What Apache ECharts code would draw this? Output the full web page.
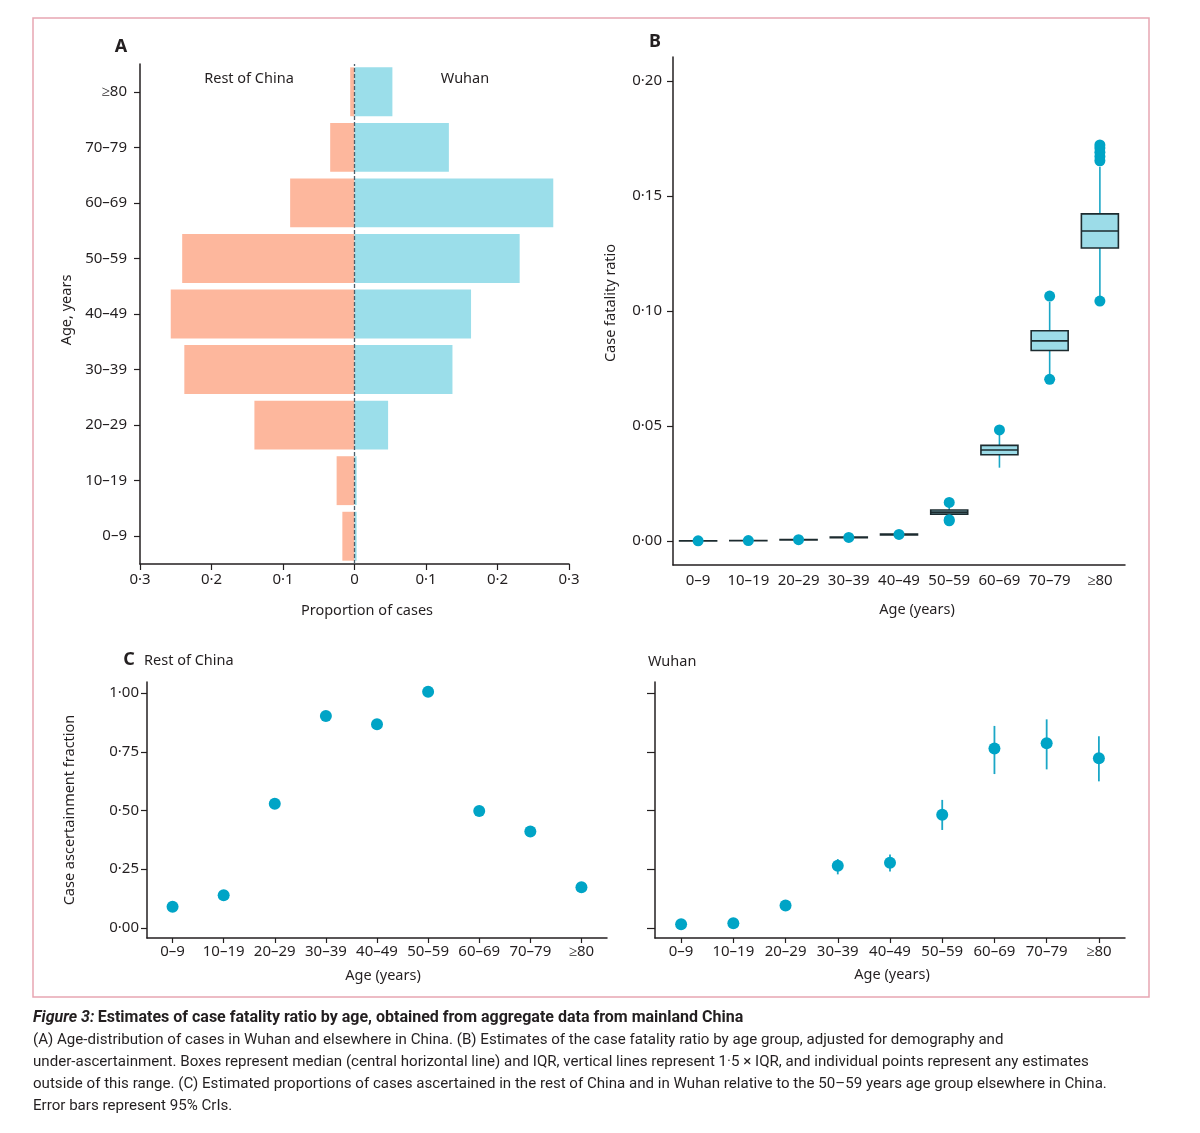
<!DOCTYPE html>
<html><head><meta charset="utf-8">
<script src="https://cdn.jsdelivr.net/npm/echarts@6/dist/echarts.min.js"></script>
<style>html,body{margin:0;padding:0;background:#fff}#c{width:1200px;height:1133px}</style>
</head><body><div id="c"></div>
<script>
// ---- data ----
const ageGroups = ['0–9','10–19','20–29','30–39','40–49','50–59','60–69','70–79','≥80'];
// Panel A: proportion of cases
const restOfChinaProp = [0.017, 0.025, 0.140, 0.238, 0.257, 0.241, 0.090, 0.034, 0.006];
const wuhanProp       = [0.003, 0.003, 0.047, 0.137, 0.163, 0.231, 0.278, 0.132, 0.053];
const propTicks = [-0.3, -0.2, -0.1, 0, 0.1, 0.2, 0.3];
// Panel B: case fatality ratio boxplots
const cfrWhiskerLo = [0.00003, 0.0001, 0.0004, 0.0013, 0.0025, 0.0104, 0.0319, 0.0722, 0.1062];
const cfrQ1        = [0.00005, 0.00012, 0.0005, 0.00145, 0.0027, 0.0117, 0.0375, 0.0828, 0.1274];
const cfrMedian    = [0.0001, 0.00017, 0.00058, 0.0016, 0.0029, 0.0126, 0.0396, 0.0870, 0.1348];
const cfrQ3        = [0.00015, 0.00022, 0.00066, 0.00175, 0.0031, 0.0135, 0.0416, 0.0914, 0.1422];
const cfrWhiskerHi = [0.00018, 0.00025, 0.0007, 0.0019, 0.0033, 0.0150, 0.0461, 0.1040, 0.1627];
const outlierGroup = [0, 1, 2, 3, 4, 5, 5, 5, 6, 7, 7, 8, 8, 8, 8, 8, 8];
const outlierCfr   = [0.0001, 0.0002, 0.0006, 0.0016, 0.0029, 0.0168, 0.0093, 0.0088, 0.0483, 0.1065, 0.0703, 0.1043, 0.1653, 0.1672, 0.1690, 0.1708, 0.1722];
const cfrTicks = [0, 0.05, 0.10, 0.15, 0.20];
// Panel C: case ascertainment fraction
const restAscertain  = [0.090, 0.139, 0.529, 0.902, 0.867, 1.005, 0.498, 0.410, 0.173];
const wuhanAscertain = [0.016, 0.020, 0.095, 0.265, 0.277, 0.482, 0.764, 0.786, 0.722];
const wuhanLo        = [0.010, 0.014, 0.088, 0.228, 0.240, 0.417, 0.655, 0.675, 0.624];
const wuhanHi        = [0.022, 0.026, 0.102, 0.293, 0.312, 0.545, 0.860, 0.888, 0.816];
const ascTicks = [0, 0.25, 0.5, 0.75, 1];

// ---- styles ----
const INK = '#231F20';
const FONT = 'Noto Sans';
const TEAL = '#00A4C6';
const SALMON = '#FDB79D';
const LIGHTBLUE = '#9BDEEA';
const dotFmt = (v, d) => v.toFixed(d).replace('.', '·');

const axisLineStyle = {show: true, onZero: false, lineStyle: {color: INK, width: 1.5}};
const labelStyle = {color: INK, fontFamily: FONT, fontSize: 15};

function text(x, y, t, opts) {
  opts = opts || {};
  return {
    type: 'text', x: x, y: y, rotation: opts.rotation || 0, silent: true,
    style: {
      text: t, x: 0, y: 0, fill: INK,
      font: (opts.weight || 'normal') + ' ' + (opts.size || 14.5) + 'px "' + (opts.family || FONT) + '"',
      align: opts.align || 'center', verticalAlign: 'middle',
      textAlign: opts.align || 'center', textVerticalAlign: 'middle'
    }
  };
}

const chart = echarts.init(document.getElementById('c'), null, {renderer: 'canvas'});

const capY = 1018, capStep = 22;
const capFont = 'Roboto';
const capSize = 15.1;
const option = {
  animation: false,
  backgroundColor: '#fff',
  textStyle: {fontFamily: FONT, color: INK},
  grid: [
    {left: 140, top: 64, width: 429, height: 500},
    {left: 673, top: 57, width: 452, height: 508},
    {left: 147, top: 682, width: 460, height: 256},
    {left: 655, top: 682, width: 470, height: 256}
  ],
  xAxis: [
    {
      gridIndex: 0, type: 'value', min: -0.3, max: 0.3,
      axisLine: axisLineStyle,
      axisTick: {show: true, length: 6, lineStyle: {color: INK, width: 1.2}, customValues: propTicks},
      axisLabel: Object.assign({}, labelStyle, {margin: 8, customValues: propTicks,
        formatter: v => Math.abs(v) < 1e-9 ? '0' : dotFmt(Math.abs(v), 1)}),
      splitLine: {show: false}
    },
    {
      gridIndex: 1, type: 'category', data: ageGroups,
      axisLine: axisLineStyle, axisTick: {show: false},
      axisLabel: Object.assign({}, labelStyle, {interval: 0, margin: 8}),
      splitLine: {show: false}
    },
    {
      gridIndex: 2, type: 'category', data: ageGroups,
      axisLine: axisLineStyle,
      axisTick: {show: true, alignWithLabel: true, length: 5, lineStyle: {color: INK, width: 1.2}},
      axisLabel: Object.assign({}, labelStyle, {interval: 0, margin: 6}),
      splitLine: {show: false}
    },
    {
      gridIndex: 3, type: 'category', data: ageGroups,
      axisLine: axisLineStyle,
      axisTick: {show: true, alignWithLabel: true, length: 5, lineStyle: {color: INK, width: 1.2}},
      axisLabel: Object.assign({}, labelStyle, {interval: 0, margin: 6}),
      splitLine: {show: false}
    }
  ],
  yAxis: [
    {
      gridIndex: 0, type: 'category', data: ageGroups,
      axisLine: axisLineStyle,
      axisTick: {show: true, alignWithLabel: true, length: 6, lineStyle: {color: INK, width: 1.2}},
      axisLabel: Object.assign({}, labelStyle, {interval: 0, margin: 13}),
      splitLine: {show: false}
    },
    {
      gridIndex: 1, type: 'value', min: -0.0104, max: 0.2104,
      axisLine: axisLineStyle,
      axisTick: {show: true, length: 6, lineStyle: {color: INK, width: 1.2}, customValues: cfrTicks},
      axisLabel: Object.assign({}, labelStyle, {margin: 11, customValues: cfrTicks, formatter: v => dotFmt(v, 2)}),
      splitLine: {show: false}
    },
    {
      gridIndex: 2, type: 'value', min: -0.043, max: 1.047,
      axisLine: axisLineStyle,
      axisTick: {show: true, length: 6, lineStyle: {color: INK, width: 1.2}, customValues: ascTicks},
      axisLabel: Object.assign({}, labelStyle, {margin: 8, customValues: ascTicks, formatter: v => dotFmt(v, 2)}),
      splitLine: {show: false}
    },
    {
      gridIndex: 3, type: 'value', min: -0.043, max: 1.047,
      axisLine: axisLineStyle,
      axisTick: {show: true, length: 8, lineStyle: {color: INK, width: 1.2}, customValues: ascTicks},
      axisLabel: {show: false},
      splitLine: {show: false}
    }
  ],
  series: [
    {
      name: 'Rest of China', type: 'bar', xAxisIndex: 0, yAxisIndex: 0,
      data: restOfChinaProp.map(v => -v), barWidth: '88%', barGap: '-100%',
      itemStyle: {color: SALMON}, silent: true
    },
    {
      name: 'Wuhan', type: 'bar', xAxisIndex: 0, yAxisIndex: 0,
      data: wuhanProp, barWidth: '88%', barGap: '-100%',
      itemStyle: {color: LIGHTBLUE}, silent: true,
      markLine: {
        silent: true, symbol: 'none', label: {show: false},
        lineStyle: {color: '#4E5F6B', type: [4, 2], width: 1.3},
        data: [{xAxis: 0}]
      }
    },
    {
      name: 'whiskers', type: 'custom', xAxisIndex: 1, yAxisIndex: 1, silent: true,
      data: ageGroups.map((g, i) => [i, cfrWhiskerLo[i], cfrWhiskerHi[i]]),
      encode: {x: 0, y: [1, 2]},
      renderItem: function (params, api) {
        const i = api.value(0);
        const a = api.coord([i, api.value(1)]);
        const b = api.coord([i, api.value(2)]);
        return {type: 'line', shape: {x1: a[0], y1: a[1], x2: b[0], y2: b[1]},
          style: {stroke: '#1BA7C7', lineWidth: 1.6}};
      }, z: 2
    },
    {
      name: 'cfr', type: 'boxplot', xAxisIndex: 1, yAxisIndex: 1, silent: true,
      boxWidth: [37, 37],
      data: ageGroups.map((g, i) => [cfrQ1[i], cfrQ1[i], cfrMedian[i], cfrQ3[i], cfrQ3[i]]),
      itemStyle: {color: '#9CDCE8', borderColor: '#1C2B2F', borderWidth: 1.6},
      z: 3
    },
    {
      name: 'outliers', type: 'scatter', xAxisIndex: 1, yAxisIndex: 1, silent: true,
      data: outlierGroup.map((g, i) => [g, outlierCfr[i]]),
      symbolSize: 11, itemStyle: {color: TEAL, opacity: 1}, z: 4
    },
    {
      name: 'rest asc', type: 'scatter', xAxisIndex: 2, yAxisIndex: 2, silent: true,
      data: restAscertain.map((v, i) => [i, v]),
      symbolSize: 12, itemStyle: {color: TEAL, opacity: 1}
    },
    {
      name: 'wuhan ci', type: 'custom', xAxisIndex: 3, yAxisIndex: 3, silent: true,
      data: ageGroups.map((g, i) => [i, wuhanLo[i], wuhanHi[i]]),
      encode: {x: 0, y: [1, 2]},
      renderItem: function (params, api) {
        const i = api.value(0);
        const a = api.coord([i, api.value(1)]);
        const b = api.coord([i, api.value(2)]);
        return {type: 'line', shape: {x1: a[0], y1: a[1], x2: b[0], y2: b[1]},
          style: {stroke: '#1BA7C7', lineWidth: 1.8}};
      }
    },
    {
      name: 'wuhan asc', type: 'scatter', xAxisIndex: 3, yAxisIndex: 3, silent: true,
      data: wuhanAscertain.map((v, i) => [i, v]),
      symbolSize: 12, itemStyle: {color: TEAL, opacity: 1}, z: 4
    }
  ],
  graphic: {
    elements: [
      {type: 'rect', silent: true, shape: {x: 33, y: 18, width: 1116, height: 979},
        style: {fill: 'none', stroke: '#E7A6B2', lineWidth: 1.5}},
      text(121, 47, 'A', {weight: 'bold', size: 18}),
      text(655, 42, 'B', {weight: 'bold', size: 18}),
      text(129, 660, 'C', {weight: 'bold', size: 18}),
      text(249, 79, 'Rest of China'),
      text(465, 79, 'Wuhan'),
      text(144, 661, 'Rest of China', {align: 'left'}),
      text(648, 662, 'Wuhan', {align: 'left'}),
      text(67, 310, 'Age, years', {rotation: Math.PI / 2}),
      text(611, 303, 'Case fatality ratio', {rotation: Math.PI / 2}),
      text(70, 810, 'Case ascertainment fraction', {rotation: Math.PI / 2}),
      text(367, 611, 'Proportion of cases'),
      text(917, 610, 'Age (years)'),
      text(383, 976, 'Age (years)'),
      text(892, 975, 'Age (years)'),
      {
        type: 'text', x: 33, y: capY, silent: true,
        style: {
          text: '{a|Figure 3:} {b|Estimates of case fatality ratio by age, obtained from aggregate data from mainland China}',
          x: 0, y: 0, verticalAlign: 'middle', textVerticalAlign: 'middle',
          rich: {
            a: {fontFamily: capFont, fontSize: 16, fontWeight: 'bold', fontStyle: 'italic', fill: INK, color: INK},
            b: {fontFamily: capFont, fontSize: 16, fontWeight: 'bold', fill: INK, color: INK}
          }
        }
      },
      text(33, capY + capStep, '(A) Age-distribution of cases in Wuhan and elsewhere in China. (B) Estimates of the case fatality ratio by age group, adjusted for demography and', {align: 'left', family: capFont, size: capSize}),
      text(33, capY + 2 * capStep, 'under-ascertainment. Boxes represent median (central horizontal line) and IQR, vertical lines represent 1·5 × IQR, and individual points represent any estimates', {align: 'left', family: capFont, size: capSize}),
      text(33, capY + 3 * capStep, 'outside of this range. (C) Estimated proportions of cases ascertained in the rest of China and in Wuhan relative to the 50–59 years age group elsewhere in China.', {align: 'left', family: capFont, size: capSize}),
      text(33, capY + 4 * capStep, 'Error bars represent 95% CrIs.', {align: 'left', family: capFont, size: capSize})
    ]
  }
};
chart.setOption(option);
</script>
</body></html>
